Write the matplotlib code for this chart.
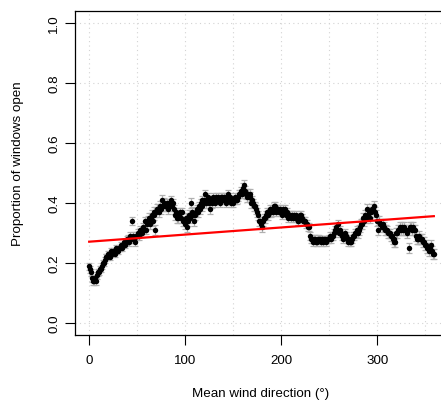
import numpy as np
import matplotlib.pyplot as plt

plt.rcParams['font.family'] = ['Liberation Sans', 'DejaVu Sans']

# Mean wind direction (degrees), one bin per degree
direction = np.arange(0, 360)

# Proportion of windows open in each direction bin
prop_open = [
    0.19, 0.18, 0.17, 0.15, 0.14, 0.14, 0.15, 0.14, 0.16, 0.17,
    0.17, 0.18, 0.18, 0.19, 0.20, 0.20, 0.21, 0.22, 0.22, 0.22,
    0.23, 0.23, 0.22, 0.24, 0.23, 0.24, 0.24, 0.23, 0.25, 0.24,
    0.24, 0.25, 0.25, 0.26, 0.25, 0.26, 0.27, 0.26, 0.27, 0.28,
    0.28, 0.27, 0.28, 0.29, 0.28, 0.34, 0.29, 0.28, 0.27, 0.29,
    0.29, 0.30, 0.29, 0.31, 0.30, 0.30, 0.32, 0.31, 0.34, 0.31,
    0.33, 0.34, 0.35, 0.33, 0.35, 0.36, 0.34, 0.37, 0.36, 0.31,
    0.37, 0.38, 0.38, 0.37, 0.39, 0.38, 0.41, 0.39, 0.40, 0.39,
    0.39, 0.40, 0.38, 0.40, 0.39, 0.41, 0.39, 0.40, 0.38, 0.36,
    0.37, 0.35, 0.36, 0.35, 0.36, 0.37, 0.35, 0.37, 0.34, 0.34,
    0.33, 0.35, 0.32, 0.34, 0.36, 0.35, 0.40, 0.37, 0.36, 0.34,
    0.36, 0.37, 0.38, 0.37, 0.39, 0.38, 0.40, 0.39, 0.41, 0.40,
    0.41, 0.43, 0.40, 0.41, 0.42, 0.40, 0.38, 0.41, 0.40, 0.42,
    0.41, 0.40, 0.42, 0.41, 0.42, 0.41, 0.40, 0.42, 0.42, 0.41,
    0.42, 0.41, 0.40, 0.42, 0.41, 0.43, 0.41, 0.42, 0.40, 0.41,
    0.40, 0.41, 0.42, 0.41, 0.41, 0.42, 0.43, 0.43, 0.44, 0.43,
    0.45, 0.46, 0.44, 0.43, 0.42, 0.43, 0.42, 0.43, 0.42, 0.40,
    0.41, 0.40, 0.39, 0.39, 0.38, 0.37, 0.36, 0.34, 0.34, 0.33,
    0.32, 0.34, 0.35, 0.35, 0.36, 0.37, 0.36, 0.37, 0.38, 0.37,
    0.38, 0.37, 0.39, 0.38, 0.39, 0.37, 0.38, 0.38, 0.37, 0.38,
    0.37, 0.36, 0.38, 0.37, 0.38, 0.36, 0.37, 0.35, 0.36, 0.36,
    0.35, 0.36, 0.35, 0.36, 0.35, 0.36, 0.35, 0.34, 0.34, 0.35,
    0.36, 0.36, 0.35, 0.34, 0.34, 0.34, 0.33, 0.33, 0.32, 0.32,
    0.29, 0.28, 0.28, 0.27, 0.28, 0.28, 0.27, 0.27, 0.28, 0.28,
    0.28, 0.27, 0.28, 0.28, 0.27, 0.28, 0.28, 0.27, 0.28, 0.28,
    0.28, 0.29, 0.28, 0.29, 0.29, 0.30, 0.31, 0.32, 0.31, 0.33,
    0.30, 0.31, 0.30, 0.29, 0.28, 0.29, 0.30, 0.29, 0.29, 0.28,
    0.27, 0.28, 0.27, 0.27, 0.28, 0.29, 0.29, 0.30, 0.30, 0.31,
    0.30, 0.31, 0.32, 0.33, 0.33, 0.35, 0.34, 0.36, 0.35, 0.38,
    0.36, 0.37, 0.35, 0.37, 0.37, 0.38, 0.38, 0.39, 0.37, 0.36,
    0.34, 0.31, 0.34, 0.33, 0.33, 0.32, 0.33, 0.32, 0.31, 0.31,
    0.31, 0.30, 0.30, 0.30, 0.29, 0.29, 0.28, 0.28, 0.27, 0.27,
    0.30, 0.30, 0.31, 0.31, 0.32, 0.31, 0.32, 0.31, 0.32, 0.31,
    0.31, 0.30, 0.31, 0.25, 0.32, 0.32, 0.31, 0.32, 0.31, 0.31,
    0.29, 0.28, 0.28, 0.28, 0.29, 0.28, 0.28, 0.28, 0.27, 0.27,
    0.26, 0.26, 0.25, 0.25, 0.24, 0.25, 0.26, 0.24, 0.23, 0.23,
]

# Standard error, one value per 10-degree block
se_block = [0.012, 0.010, 0.010, 0.010, 0.014, 0.014, 0.016, 0.016, 0.015, 0.015,
            0.016, 0.015, 0.015, 0.014, 0.014, 0.014, 0.016, 0.015, 0.015, 0.014,
            0.013, 0.013, 0.014, 0.013, 0.012, 0.013, 0.013, 0.014, 0.016, 0.017,
            0.016, 0.015, 0.016, 0.016, 0.016, 0.016]

# Linear model on the raw observations
fit_intercept = 0.272
fit_slope = 0.000237

x = direction
y = np.array(prop_open)
se = np.repeat(se_block, 10)

fig = plt.figure(figsize=(4.41, 4.03), dpi=100)
ax = fig.add_axes([0.171, 0.168, 0.844, 0.804])

# grid
for gx in np.arange(0, 351, 50):
    ax.axvline(gx, color='#d3d3d3', lw=0.8, ls=(0, (1, 3)), zorder=0)
for gy in np.arange(0, 1.01, 0.2):
    ax.axhline(gy, color='#d3d3d3', lw=0.8, ls=(0, (1, 3)), zorder=0)

ax.errorbar(x, y, yerr=se, fmt='none', ecolor='#b0b0b0', elinewidth=0.9,
            capsize=2, capthick=0.9, zorder=1)
ax.plot(x, y, 'o', color='black', markersize=3.9, markeredgewidth=0, zorder=2)

xs = np.array([x.min(), x.max()])
ax.plot(xs, fit_intercept + fit_slope * xs, color='red', lw=1.6, zorder=3)

ax.set_xlim(-14.36, 373.36)
ax.set_ylim(-0.04, 1.04)
ax.set_xticks([0, 100, 200, 300])
ax.set_yticks([0.0, 0.2, 0.4, 0.6, 0.8, 1.0])
ax.set_yticklabels(['0.0', '0.2', '0.4', '0.6', '0.8', '1.0'], rotation=90, va='center')
ax.tick_params(axis='both', direction='out', length=7, width=0.8, labelsize=9.6, colors='black')
ax.tick_params(axis='x', pad=7)
ax.tick_params(axis='y', pad=4)
ax.spines['right'].set_visible(False)
for s in ax.spines.values():
    s.set_linewidth(0.9)

fig.text(261 / 441, 1 - 394 / 403, 'Mean wind direction (°)', ha='center', va='center', fontsize=9.6)
fig.text(18 / 441, 1 - 164 / 403, 'Proportion of windows open', ha='center', va='center',
         rotation=90, fontsize=9.6)

fig.savefig('out.png', dpi=100)
